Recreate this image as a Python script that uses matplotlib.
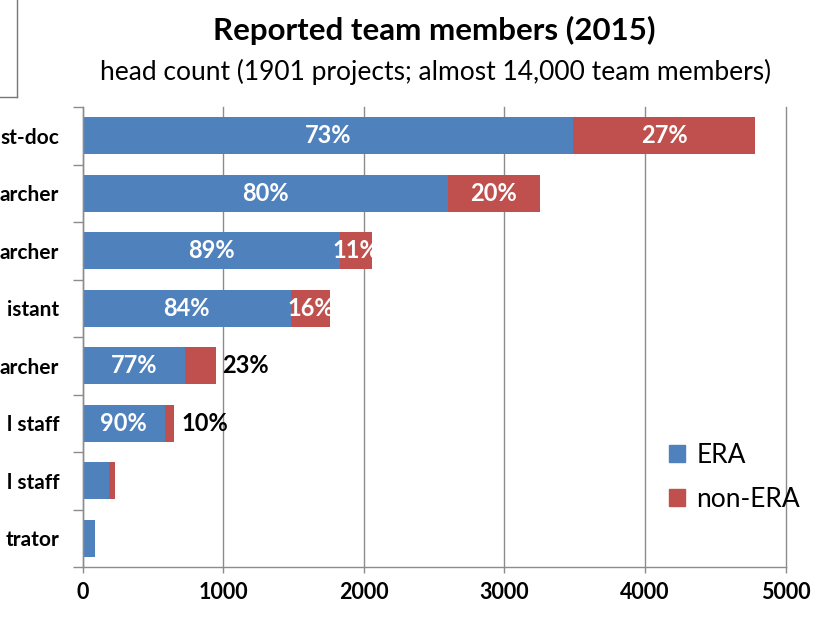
import numpy as np
import matplotlib.pyplot as plt
from matplotlib.patches import Patch
from matplotlib.lines import Line2D

plt.rcParams['font.family'] = ['Lato', 'DejaVu Sans']

# team roles, top to bottom (only the visible ends of the labels, as in the screenshot)
roles = ["st-doc", "archer", "archer", "istant", "archer", "l staff", "l staff", "trator"]
era = [3490, 2600, 1830, 1480, 730, 585, 190, 88]
non_era = [1290, 650, 230, 280, 215, 65, 40, 0]
# where the non-ERA share label goes ('in' the bar, 'out' next to it, None = no label)
non_era_label = ["in", "in", "in", "in", "out", "out", None, None]
show_era_label = [True, True, True, True, True, True, False, False]
x_ticks = [0, 1000, 2000, 3000, 4000, 5000]

blue = "#4F81BD"
red = "#C0504D"
grey = "#8c8c8c"

W, H = 827, 627
fig = plt.figure(figsize=(W / 100, H / 100), dpi=100)
ax = fig.add_axes([82.7 / W, (H - 567) / H, (785.7 - 82.7) / W, (567 - 107) / H])

y = np.arange(len(roles))
era = np.array(era)
non_era = np.array(non_era)
total = era + non_era

ax.barh(y, era, height=0.64, color=blue, zorder=3)
ax.barh(y, non_era, left=era, height=0.64, color=red, zorder=3)

for i in range(len(roles)):
    p_era = round(100 * era[i] / total[i])
    p_non = round(100 * non_era[i] / total[i])
    if show_era_label[i]:
        ax.text(era[i] / 2, y[i], f"{p_era}%", ha="center", va="center",
                color="white", fontsize=17, fontweight="bold", zorder=4)
    if non_era_label[i] == "in":
        ax.text(era[i] + non_era[i] / 2, y[i], f"{p_non}%", ha="center", va="center",
                color="white", fontsize=17, fontweight="bold", zorder=4)
    elif non_era_label[i] == "out":
        ax.text(total[i] + 50, y[i], f"{p_non}%", ha="left", va="center",
                color="black", fontsize=17, fontweight="bold", zorder=4)

ax.set_ylim(len(roles) - 0.5, -0.5)
ax.set_xlim(0, 5000)
ax.set_xticks(x_ticks)
ax.set_xticklabels([str(v) for v in x_ticks], fontsize=15.5, fontweight="bold")
ax.set_yticks(y)
ax.set_yticklabels(roles, fontsize=15, fontweight="bold")
ax.set_yticks(np.arange(len(roles) + 1) - 0.5, minor=True)
ax.tick_params(axis="y", which="major", length=0, pad=17)
ax.tick_params(axis="y", which="minor", length=7, color=grey, width=1)
ax.tick_params(axis="x", length=4, color=grey, width=1, pad=7)

ax.grid(axis="x", color=grey, lw=1, zorder=0)
for line in ax.get_xgridlines():
    line.set_clip_on(False)
for s in ["top", "right"]:
    ax.spines[s].set_visible(False)
for s in ["left", "bottom"]:
    ax.spines[s].set_color(grey)
    ax.spines[s].set_linewidth(1)
    ax.spines[s].set_zorder(5)

fig.text(434 / W, 1 - 30 / H, "Reported team members (2015)", ha="center", va="center",
         fontsize=22.5, fontweight="bold")
fig.text(436 / W, 1 - 72 / H, "head count (1901 projects; almost 14,000 team members)",
         ha="center", va="center", fontsize=19)

handles = [Patch(color=blue, label="ERA"), Patch(color=red, label="non-ERA")]
fig.legend(handles=handles, loc="upper left", bbox_to_anchor=(645 / W, 1 - 419 / H),
           frameon=False, fontsize=19, handlelength=0.6, handleheight=0.6,
           handletextpad=0.45, labelspacing=0.72)

# edge of a neighbouring box in the top-left corner of the screenshot
fig.add_artist(Line2D([17 / W, 17 / W], [1, 1 - 97 / H], color="#777777", lw=1))
fig.add_artist(Line2D([0, 17 / W], [1 - 97 / H, 1 - 97 / H], color="#777777", lw=1))

fig.savefig("out.png", dpi=100)
